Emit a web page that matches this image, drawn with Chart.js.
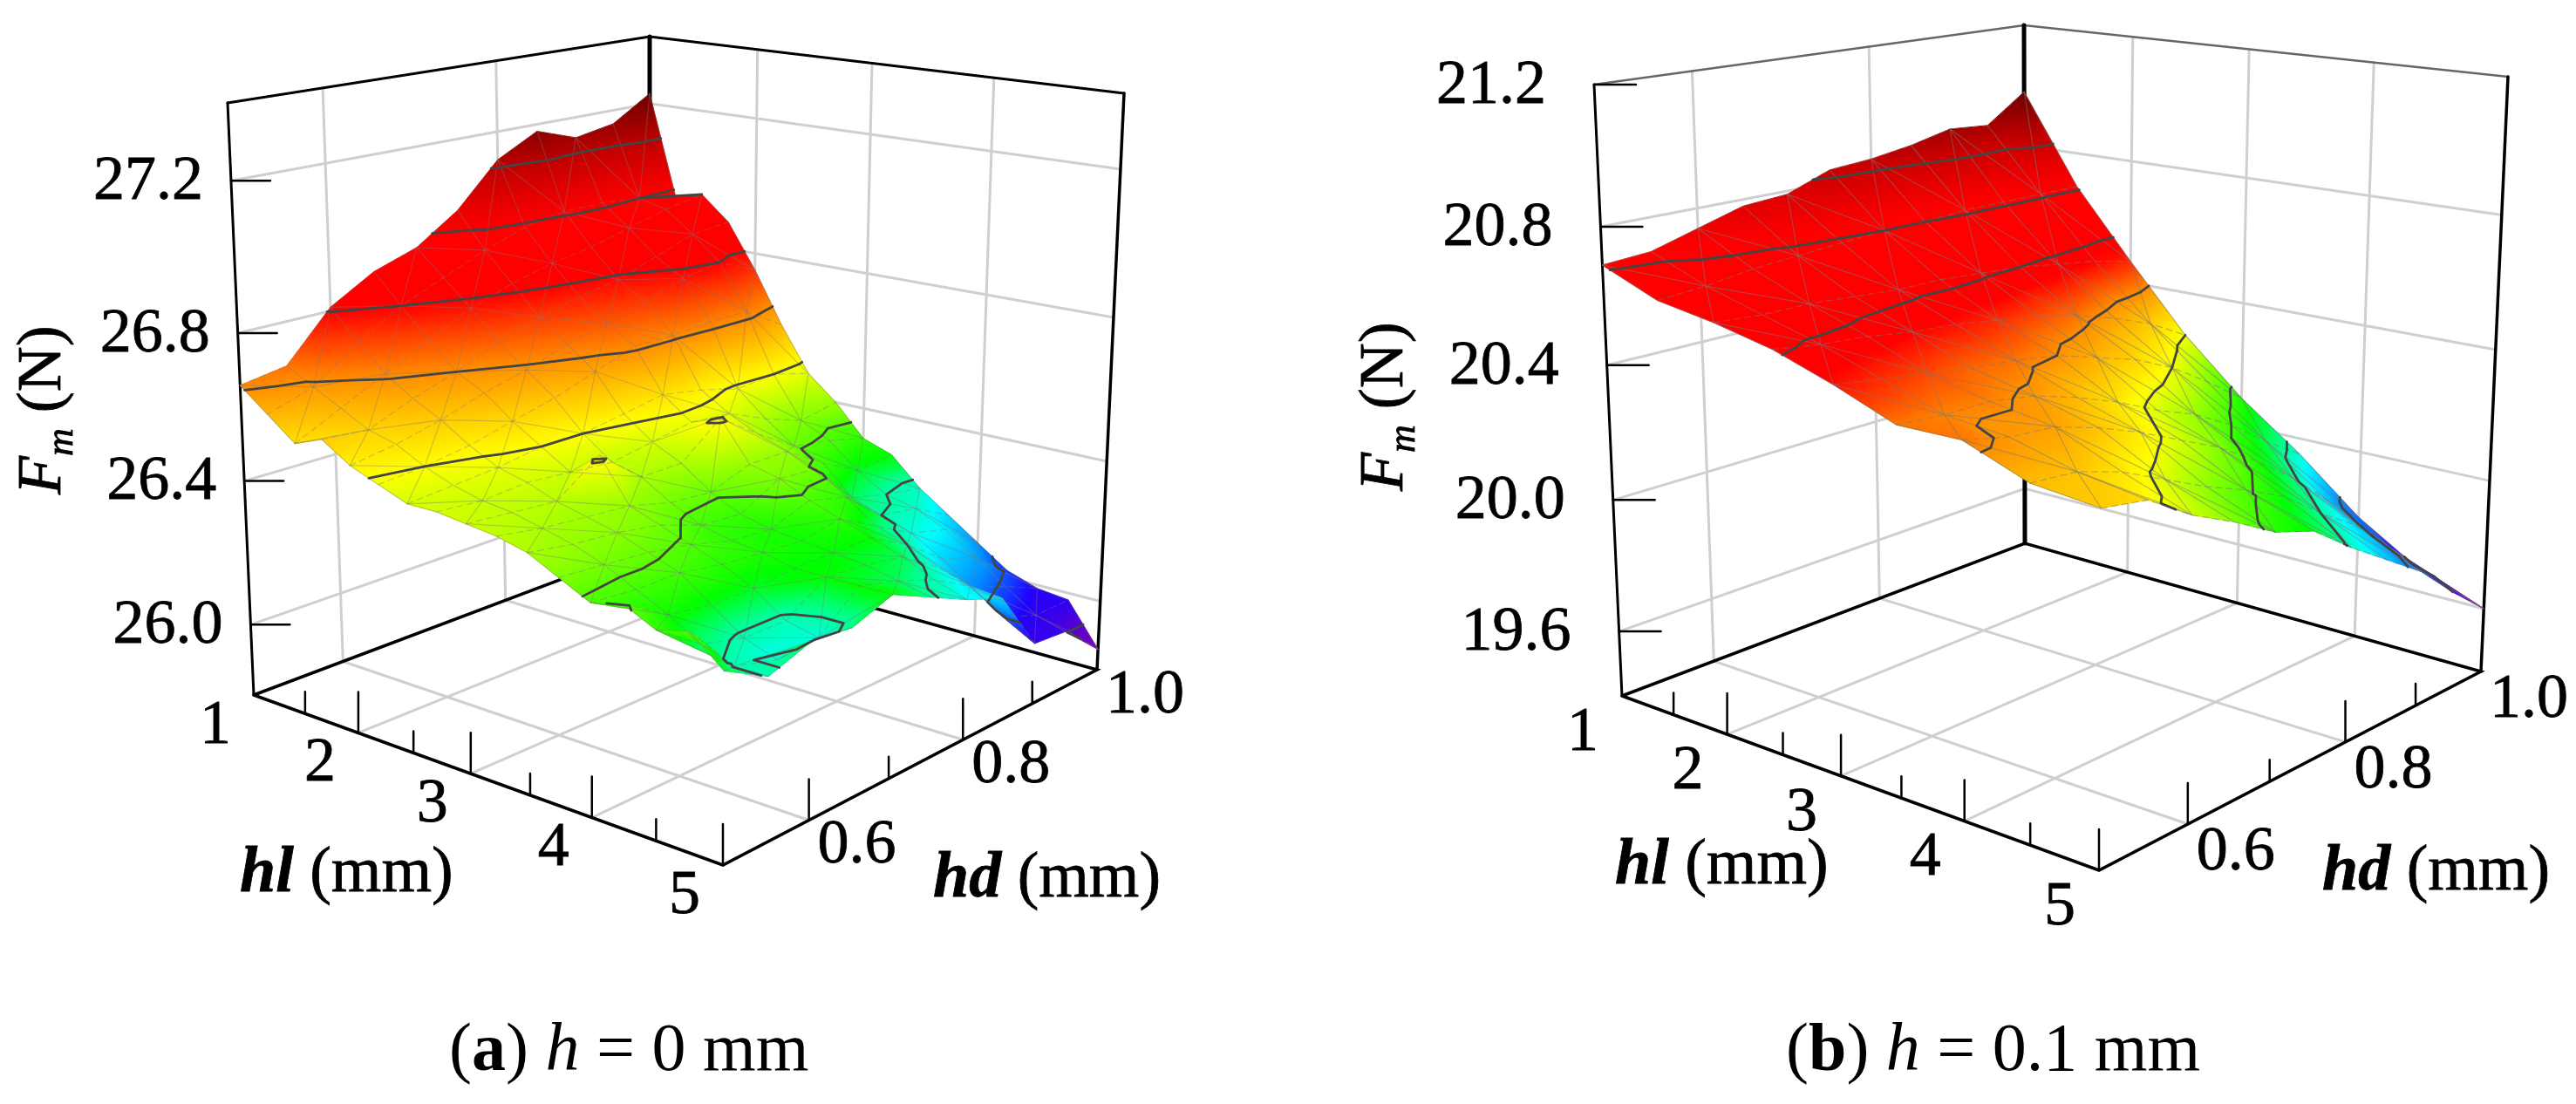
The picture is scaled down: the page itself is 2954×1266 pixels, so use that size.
<!DOCTYPE html>
<html>
<head>
<meta charset="utf-8">
<title>Fm surfaces</title>
<script src="https://cdn.jsdelivr.net/npm/chart.js@4/dist/chart.umd.min.js"></script>
<style>
  html, body { margin: 0; padding: 0; background: #fff; width: 2954px; height: 1266px; overflow: hidden; }
  canvas { position: absolute; top: 0; }
  #chartA { left: 0; }
  #chartB { left: 1477px; }
  .caption { position: absolute; top: 1156px; font: 78px/90px "Liberation Serif", serif; color: #000; white-space: pre; }
</style>
</head>
<body>
<canvas id="chartA" width="1477" height="1266"></canvas>
<canvas id="chartB" width="1477" height="1266"></canvas>
<div class="caption" style="left:515px">(<b>a</b>) <i>h</i> = 0 mm</div>
<div class="caption" style="left:2048px">(<b>b</b>) <i>h</i> = 0.1 mm</div>
<script>
// grid of the surfaces
const hlValuesA = [1, 1.25, 1.5, 1.75, 2, 2.25, 2.5, 2.75, 3, 3.25, 3.5, 3.75, 4, 4.25, 4.5, 4.75, 5];
const hlValuesB = [1, 1.5, 2, 2.5, 3, 3.5, 4, 4.5, 5];
const hdValues = [0.5, 0.55, 0.6, 0.65, 0.7, 0.75, 0.8, 0.85, 0.9, 0.95, 1];

// Fm (N), one row for each hl
const fmA = [
  [26.66, 26.68, 26.81, 26.88, 26.92, 27.00, 27.12, 27.18, 27.14, 27.16, 27.23],
  [26.60, 26.64, 26.73, 26.80, 26.85, 26.90, 26.94, 26.96, 26.96, 26.95, 26.93],
  [26.54, 26.60, 26.66, 26.72, 26.78, 26.82, 26.85, 26.87, 26.90, 26.93, 26.95],
  [26.57, 26.56, 26.61, 26.65, 26.70, 26.74, 26.77, 26.79, 26.83, 26.87, 26.88],
  [26.52, 26.54, 26.57, 26.61, 26.64, 26.68, 26.71, 26.74, 26.78, 26.80, 26.75],
  [26.49, 26.50, 26.52, 26.55, 26.58, 26.62, 26.66, 26.66, 26.67, 26.67, 26.60],
  [26.46, 26.47, 26.48, 26.50, 26.50, 26.52, 26.54, 26.52, 26.49, 26.50, 26.47],
  [26.46, 26.45, 26.46, 26.45, 26.44, 26.46, 26.48, 26.47, 26.42, 26.38, 26.40],
  [26.45, 26.44, 26.43, 26.515, 26.42, 26.42, 26.51, 26.43, 26.36, 26.34, 26.31],
  [26.44, 26.42, 26.41, 26.40, 26.37, 26.36, 26.40, 26.40, 26.33, 26.27, 26.28],
  [26.42, 26.40, 26.39, 26.37, 26.33, 26.32, 26.38, 26.37, 26.25, 26.22, 26.20],
  [26.38, 26.37, 26.36, 26.34, 26.31, 26.30, 26.34, 26.31, 26.22, 26.20, 26.14],
  [26.34, 26.33, 26.33, 26.31, 26.30, 26.29, 26.31, 26.25, 26.19, 26.16, 26.08],
  [26.36, 26.29, 26.27, 26.27, 26.28, 26.28, 26.28, 26.22, 26.14, 26.10, 26.02],
  [26.32, 26.24, 26.21, 26.21, 26.28, 26.27, 26.25, 26.18, 26.08, 26.04, 25.99],
  [26.34, 26.21, 26.18, 26.19, 26.28, 26.25, 26.21, 26.15, 26.02, 25.98, 25.98],
  [26.27, 26.21, 26.25, 26.24, 26.28, 26.23, 26.18, 26.14, 25.97, 25.96, 25.86]
];
const fmB = [
  [20.69, 20.70, 20.74, 20.78, 20.79, 20.84, 20.85, 20.87, 20.90, 20.89, 20.98],
  [20.62, 20.63, 20.65, 20.66, 20.67, 20.68, 20.68, 20.69, 20.69, 20.69, 20.69],
  [20.59, 20.58, 20.58, 20.57, 20.56, 20.56, 20.55, 20.54, 20.52, 20.50, 20.47],
  [20.55, 20.53, 20.52, 20.50, 20.49, 20.47, 20.45, 20.42, 20.38, 20.33, 20.26],
  [20.49, 20.47, 20.45, 20.43, 20.42, 20.40, 20.36, 20.32, 20.26, 20.18, 20.09],
  [20.42, 20.41, 20.41, 20.39, 20.35, 20.30, 20.24, 20.19, 20.12, 20.03, 19.95],
  [20.42, 20.39, 20.38, 20.34, 20.29, 20.23, 20.17, 20.09, 20.00, 19.89, 19.79],
  [20.35, 20.34, 20.30, 20.24, 20.18, 20.13, 20.07, 19.98, 19.90, 19.79, 19.67],
  [20.33, 20.31, 20.23, 20.17, 20.10, 20.06, 19.97, 19.89, 19.81, 19.70, 19.60]
];

// tick labels
const hlTicks = [1, 2, 3, 4, 5];
const hlMinorTicks = [1.5, 2.5, 3.5, 4.5];
const hdTicks = [0.6, 0.8, 1.0];
const hdMinorTicks = [0.7, 0.9];
const fmTicksA = [26.0, 26.4, 26.8, 27.2];
const fmTicksB = [19.6, 20.0, 20.4, 20.8, 21.2];

// contour levels
const levelsA = [25.92, 26.05, 26.22, 26.35, 26.5, 26.65, 26.8, 26.95, 27.1];
const levelsB = [19.7, 19.84, 19.98, 20.12, 20.26, 20.4, 20.54, 20.68, 20.82];

// colour map, the same ramp over each panel's own values
const ramp = ['#8000b0', '#2000ff', '#0090ff', '#00ffff', '#00ff90', '#00ff00', '#80ff00', '#ffff00', '#ff9000', '#ff0000', '#ff0000', '#c80000', '#6e0000'];
const rampA = [25.86, 26.0, 26.08, 26.17, 26.23, 26.28, 26.38, 26.5, 26.65, 26.8, 26.95, 27.08, 27.23];
const rampB = [19.6, 19.72, 19.84, 19.93, 19.99, 20.07, 20.17, 20.27, 20.4, 20.5, 20.7, 20.84, 20.98];
const rampRgb = ramp.map(c => [1, 3, 5].map(i => parseInt(c.substr(i, 2), 16)));

// camera: the box corners on the page, floor and top
const panelA = {
  canvas: 'chartA', xMin: 0, xMax: 1477, hl: hlValuesA, fm: fmA, fmTicks: fmTicksA, levels: levelsA, rampAt: rampA,
  zMin: 25.8, zMax: 27.4, topColor: '#000', topWidth: 3, meshColor: 'rgba(120,120,120,0.36)',
  floor: { L: [291, 797], F: [829, 992], R: [1258, 768], B: [745, 626] },
  top: { L: [261, 118], F: [834, 202], R: [1289, 107], B: [745, 42] },
  fmGap: 32, fmTickLen: 45, hlOff: [-44, 36], hdOff: [55, 30],
  hlTitle: [275, 1022], hdTitle: [1070, 1028], fmTitle: [69, 567]
};
const panelB = {
  canvas: 'chartB', xMin: 1477, xMax: 2954, hl: hlValuesB, fm: fmB, fmTicks: fmTicksB, levels: levelsB, rampAt: rampB,
  zMin: 19.4, zMax: 21.2, topColor: '#666', topWidth: 2.5, meshColor: 'rgba(120,120,120,0.5)',
  floor: { L: [1860, 798], F: [2407, 998], R: [2845, 770], B: [2322, 623] },
  top: { L: [1828, 97], F: [2412, 171], R: [2876, 88], B: [2321, 29] },
  fmGap: 55, fmTickLen: 48, hlOff: [-45, 43], hdOff: [55, 33],
  hlTitle: [1852, 1013], hdTitle: [2663, 1020], fmTitle: [1608, 563]
};

const SERIF = '"Liberation Serif", serif';
const GAP = { x: NaN, y: NaN };

function project(p, hl, hd, fm) {
  const u = (hl - 1) / 4, v = (hd - 0.5) / 0.5, w = (fm - p.zMin) / (p.zMax - p.zMin);
  const mix = { L: (1 - u) * (1 - v), F: u * (1 - v), R: u * v, B: (1 - u) * v };
  let sx = 0, sy = 0, sw = 0;
  for (const k of ['L', 'F', 'R', 'B']) {
    const h = Math.hypot(p.top[k][0] - p.floor[k][0], p.top[k][1] - p.floor[k][1]);
    const db = mix[k] * (1 - w) * 1.06 / h;   // depth of the floor corner
    const dt = mix[k] * w / h;                // depth of the top corner
    sx += db * p.floor[k][0] + dt * p.top[k][0];
    sy += db * p.floor[k][1] + dt * p.top[k][1];
    sw += db + dt;
  }
  return { x: sx / sw, y: sy / sw };
}

function colorAt(p, f) {
  const a = p.rampAt;
  if (f <= a[0]) return 'rgb(' + rampRgb[0] + ')';
  for (let i = 1; i < a.length; i++) {
    if (f <= a[i]) {
      const t = (f - a[i - 1]) / (a[i] - a[i - 1]);
      const c = rampRgb[i].map((n, k) => Math.round(rampRgb[i - 1][k] + (n - rampRgb[i - 1][k]) * t));
      return 'rgb(' + c + ')';
    }
  }
  return 'rgb(' + rampRgb[rampRgb.length - 1] + ')';
}

// fill for one triangle: a linear gradient along the way Fm climbs on the page
function triPaint(chart, p, tri) {
  if (tri.paint) return tri.paint;
  const sx = chart.scales.x, sy = chart.scales.y;
  const lo = Math.min(...tri.z), hi = Math.max(...tri.z);
  const flat = colorAt(p, (lo + hi) / 2);
  if (!sx || !sy) return flat;
  const px = tri.pts.map(q => [sx.getPixelForValue(q.x), sy.getPixelForValue(q.y)]);
  const ax = px[1][0] - px[0][0], ay = px[1][1] - px[0][1];
  const bx = px[2][0] - px[0][0], by = px[2][1] - px[0][1];
  const dz1 = tri.z[1] - tri.z[0], dz2 = tri.z[2] - tri.z[0];
  const det = ax * by - ay * bx;
  // scales are not laid out yet on the first pass
  if (!isFinite(det)) return flat;
  if (Math.abs(det) < 1e-3 || hi - lo < 1e-6) {
    tri.paint = flat;
    return flat;
  }
  const gx = (dz1 * by - dz2 * ay) / det, gy = (ax * dz2 - bx * dz1) / det;
  const n = gx * gx + gy * gy;
  const g = chart.ctx.createLinearGradient(
    px[0][0] + gx * (lo - tri.z[0]) / n, px[0][1] + gy * (lo - tri.z[0]) / n,
    px[0][0] + gx * (hi - tri.z[0]) / n, px[0][1] + gy * (hi - tri.z[0]) / n);
  for (let k = 0; k <= 10; k++) g.addColorStop(k / 10, colorAt(p, lo + (hi - lo) * k / 10));
  tri.paint = g;
  return g;
}

function lineSet(points, color, width, dash) {
  return { data: points, showLine: true, pointRadius: 0, borderColor: color, borderWidth: width, borderDash: dash || [], fill: false, borderCapStyle: 'round' };
}

function cellTriangles(i, j) {
  const c = [[i, j], [i + 1, j], [i + 1, j + 1], [i, j + 1]];
  const parts = (i + j) % 2 === 0 ? [[0, 1, 2], [0, 2, 3]] : [[0, 1, 3], [1, 2, 3]];
  return parts.map(part => part.map(n => c[n]));
}

function buildDatasets(p) {
  const drawn = [];   // in paint order, reversed at the end
  const P = (hl, hd, fm) => project(p, hl, hd, fm);
  const hlGrid = p.hl;
  const hdLo = hdValues[0], hdHi = hdValues[hdValues.length - 1];

  // walls and floor grid
  let grid = [];
  for (const hd of hdTicks.slice(0, 2)) grid.push(P(1, hd, p.zMin), P(1, hd, p.zMax), GAP);
  for (const hl of hlTicks.slice(1, 4)) grid.push(P(hl, 1, p.zMin), P(hl, 1, p.zMax), GAP);
  for (const f of p.fmTicks) {
    if (f < p.zMax) grid.push(P(1, hdLo, f), P(1, hdHi, f), P(5, hdHi, f), GAP);
  }
  for (const hl of hlTicks.slice(1, 4)) grid.push(P(hl, hdLo, p.zMin), P(hl, hdHi, p.zMin), GAP);
  for (const hd of hdTicks.slice(0, 2)) grid.push(P(1, hd, p.zMin), P(5, hd, p.zMin), GAP);
  drawn.push(lineSet(grid, '#cfcfcf', 3));

  // top edges of the box
  drawn.push(lineSet([P(1, hdLo, p.zMax), P(1, hdHi, p.zMax), P(5, hdHi, p.zMax)], p.topColor, p.topWidth));

  // axes of the box
  drawn.push(lineSet([P(1, hdLo, p.zMin), P(1, hdLo, p.zMax)], '#000', 3));
  drawn.push(lineSet([P(1, hdHi, p.zMin), P(1, hdHi, p.zMax)], '#000', 5));
  drawn.push(lineSet([P(5, hdHi, p.zMin), P(5, hdHi, p.zMax)], '#000', 3.5));
  drawn.push(lineSet([P(1, hdLo, p.zMin), P(1, hdHi, p.zMin), P(5, hdHi, p.zMin), P(5, hdLo, p.zMin), P(1, hdLo, p.zMin)], '#000', 3.5));

  // ticks
  let ticks = [];
  const up = (q, len) => { ticks.push(q, { x: q.x, y: q.y - len }, GAP); };
  for (const f of p.fmTicks) {
    const q = P(1, hdLo, f);
    ticks.push(q, { x: q.x + p.fmTickLen, y: q.y }, GAP);
  }
  for (const hl of hlTicks.slice(1)) up(P(hl, hdLo, p.zMin), 47);
  for (const hl of hlMinorTicks) up(P(hl, hdLo, p.zMin), 25);
  for (const hd of hdTicks.slice(0, 2)) up(P(5, hd, p.zMin), 47);
  for (const hd of hdMinorTicks) up(P(5, hd, p.zMin), 25);
  drawn.push(lineSet(ticks, '#000', 2.5));

  // surface, far cells first
  for (let i = 0; i < hlGrid.length - 1; i++) {
    for (let j = hdValues.length - 2; j >= 0; j--) {
      for (const nodes of cellTriangles(i, j)) {
        const tri = {
          pts: nodes.map(n => P(hlGrid[n[0]], hdValues[n[1]], p.fm[n[0]][n[1]])),
          z: nodes.map(n => p.fm[n[0]][n[1]])
        };
        drawn.push({
          data: [tri.pts[0], tri.pts[1], tri.pts[2], tri.pts[0]],
          showLine: true, pointRadius: 0, fill: 'shape', borderWidth: 1, borderJoinStyle: 'round',
          backgroundColor: ctx => triPaint(ctx.chart, p, tri),
          borderColor: ctx => triPaint(ctx.chart, p, tri)
        });
      }
    }
  }

  // mesh
  let meshA = [], meshB = [], meshC = [];
  const node = (i, j) => P(hlGrid[i], hdValues[j], p.fm[i][j]);
  hlGrid.forEach((hl, i) => { hdValues.forEach((hd, j) => meshA.push(node(i, j))); meshA.push(GAP); });
  hdValues.forEach((hd, j) => { hlGrid.forEach((hl, i) => meshB.push(node(i, j))); meshB.push(GAP); });
  for (let i = 0; i < hlGrid.length - 1; i++) {
    for (let j = 0; j < hdValues.length - 1; j++) {
      if ((i + j) % 2 === 0) meshC.push(node(i, j), node(i + 1, j + 1), GAP);
      else meshC.push(node(i + 1, j), node(i, j + 1), GAP);
    }
  }
  drawn.push(lineSet(meshA, p.meshColor, 1.2, [7, 5]));
  drawn.push(lineSet(meshB, p.meshColor, 1.2));
  drawn.push(lineSet(meshC, p.meshColor, 1.2));

  // contours, cut out of the triangles of the same mesh
  for (const level of p.levels) {
    let seg = [];
    for (let i = 0; i < hlGrid.length - 1; i++) {
      for (let j = 0; j < hdValues.length - 1; j++) {
        for (const n of cellTriangles(i, j)) {
          const cut = [];
          for (let e = 0; e < 3; e++) {
            const a = n[e], b = n[(e + 1) % 3];
            const fa = p.fm[a[0]][a[1]], fb = p.fm[b[0]][b[1]];
            if ((fa >= level) !== (fb >= level)) {
              const t = (level - fa) / (fb - fa);
              cut.push(P(hlGrid[a[0]] + (hlGrid[b[0]] - hlGrid[a[0]]) * t,
                         hdValues[a[1]] + (hdValues[b[1]] - hdValues[a[1]]) * t, level));
            }
          }
          if (cut.length === 2) seg.push(cut[0], cut[1], GAP);
        }
      }
    }
    drawn.push(lineSet(seg, '#444', 2.8));
  }
  return drawn.reverse();   // chart.js paints the first dataset last
}

function runs(ctx, list, x, y) {
  let at = x;
  for (const r of list) {
    ctx.font = r.font;
    ctx.fillText(r.text, at, y + (r.dy || 0));
    ctx.strokeText(r.text, at, y + (r.dy || 0));
    at += ctx.measureText(r.text).width;
  }
}

function labelPlugin(p) {
  return {
    id: 'axisText',
    afterDraw(chart) {
      const ctx = chart.ctx, sx = chart.scales.x, sy = chart.scales.y;
      const at = q => [sx.getPixelForValue(q.x), sy.getPixelForValue(q.y)];
      const local = (x, y) => [sx.getPixelForValue(x), sy.getPixelForValue(y)];
      const put = (text, x, y) => { ctx.fillText(text, x, y); ctx.strokeText(text, x, y); };
      ctx.save();
      ctx.fillStyle = '#000';
      ctx.strokeStyle = '#000';
      ctx.lineWidth = 0.8;
      ctx.font = '72px ' + SERIF;
      ctx.textBaseline = 'middle';
      ctx.textAlign = 'right';
      for (const f of p.fmTicks) {
        const [x, y] = at(project(p, 1, 0.5, f));
        put(f.toFixed(1), x - p.fmGap, y + 2);
      }
      ctx.textAlign = 'center';
      for (const hl of hlTicks) {
        const [x, y] = at(project(p, hl, 0.5, p.zMin));
        put(String(hl), x + p.hlOff[0], y + p.hlOff[1]);
      }
      for (const hd of hdTicks) {
        const [x, y] = at(project(p, 5, hd, p.zMin));
        put(hd.toFixed(1), x + p.hdOff[0], y + p.hdOff[1]);
      }
      ctx.textAlign = 'left';
      ctx.textBaseline = 'alphabetic';
      const bi = 'italic bold 74px ' + SERIF, reg = '74px ' + SERIF;
      let q = local(p.hlTitle[0], p.hlTitle[1]);
      runs(ctx, [{ text: 'hl', font: bi }, { text: ' (mm)', font: reg }], q[0], q[1]);
      q = local(p.hdTitle[0], p.hdTitle[1]);
      runs(ctx, [{ text: 'hd', font: bi }, { text: ' (mm)', font: reg }], q[0], q[1]);
      q = local(p.fmTitle[0], p.fmTitle[1]);
      ctx.translate(q[0], q[1]);
      ctx.rotate(-Math.PI / 2);
      runs(ctx, [
        { text: 'F', font: 'italic 72px ' + SERIF },
        { text: 'm', font: 'italic 44px ' + SERIF, dy: 14 },
        { text: ' (N)', font: '72px ' + SERIF }
      ], 0, 0);
      ctx.restore();
    }
  };
}

function main(p) {
  new Chart(document.getElementById(p.canvas).getContext('2d'), {
    type: 'scatter',
    data: { datasets: buildDatasets(p) },
    options: {
      responsive: false,
      animation: false,
      layout: { padding: 0 },
      events: [],
      plugins: { legend: { display: false }, tooltip: { enabled: false }, title: { display: false } },
      scales: {
        x: { type: 'linear', min: p.xMin, max: p.xMax, display: false },
        y: { type: 'linear', min: 0, max: 1266, reverse: true, display: false }
      }
    },
    plugins: [labelPlugin(p)]
  });
}

main(panelA);
main(panelB);
</script>
</body>
</html>
